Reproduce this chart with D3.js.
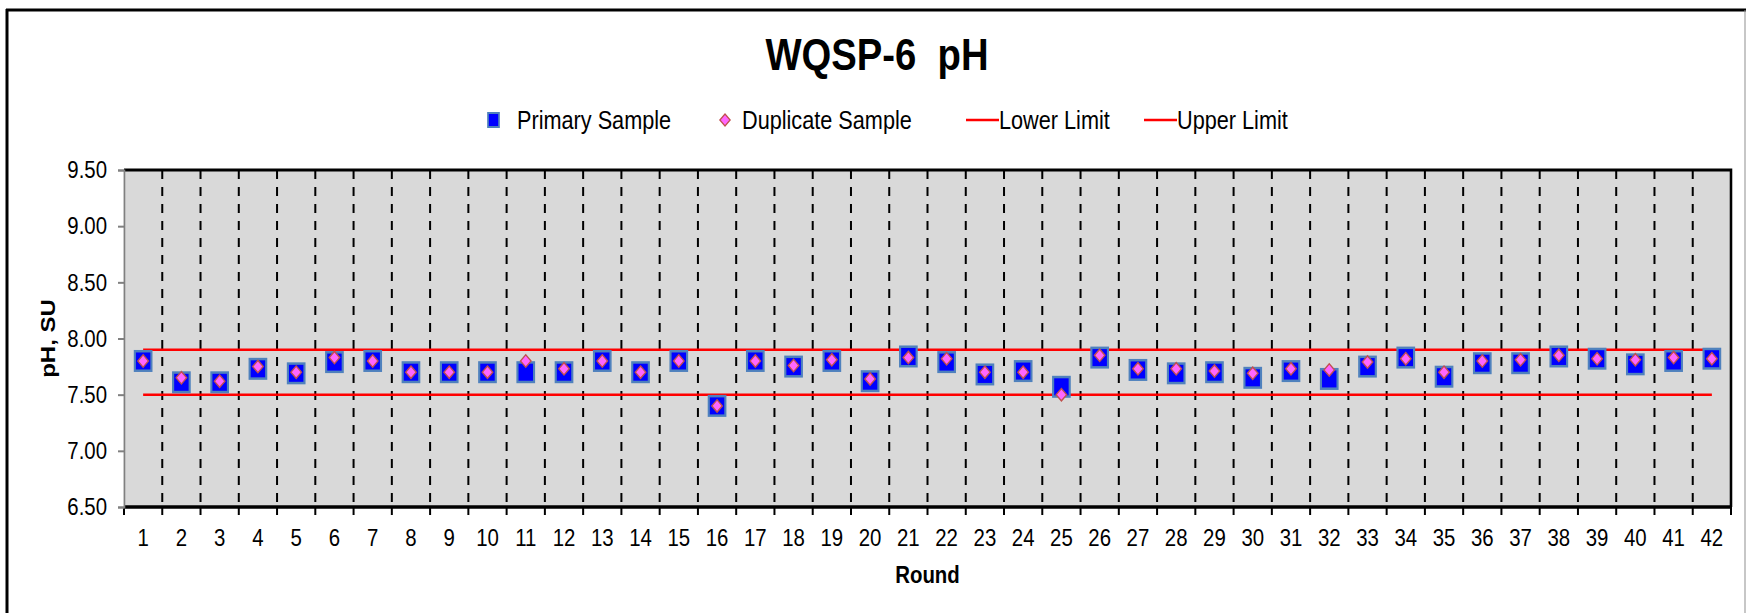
<!DOCTYPE html>
<html lang="en">
<head>
<meta charset="utf-8">
<script src="https://d3js.org/d3.v7.min.js"></script>
<style type="text/css">
body {
	margin: 0;
	background-color: #ffffff;
}
text {
	font-family: "Liberation Sans", Arial, sans-serif;
	fill: #000;
}
.axis text {
	font-size: 24px;
}
.y.axis path, .y.axis line {
	stroke: #808080;
	stroke-width: 2;
}
</style>
</head>
<body>
<script type="text/javascript">

// data
var rounds = d3.range(1, 43).map(String);
var primary = [7.80, 7.61, 7.61, 7.73, 7.69, 7.79, 7.80, 7.70, 7.70, 7.70,
               7.70, 7.70, 7.80, 7.70, 7.80, 7.40, 7.80, 7.75, 7.80, 7.62,
               7.84, 7.79, 7.68, 7.71, 7.57, 7.83, 7.72, 7.69, 7.70, 7.65,
               7.71, 7.64, 7.75, 7.83, 7.66, 7.78, 7.78, 7.84, 7.82, 7.77,
               7.80, 7.82];
var duplicate = [7.80, 7.65, 7.62, 7.75, 7.70, 7.83, 7.80, 7.70, 7.70, 7.70,
                 7.80, 7.73, 7.80, 7.70, 7.80, 7.40, 7.80, 7.76, 7.81, 7.64,
                 7.83, 7.82, 7.70, 7.70, 7.50, 7.85, 7.73, 7.73, 7.71, 7.69,
                 7.73, 7.72, 7.79, 7.82, 7.70, 7.80, 7.81, 7.85, 7.82, 7.81,
                 7.83, 7.82];
var lowerLimit = 7.50;
var upperLimit = 7.90;
var yTicks = [6.5, 7.0, 7.5, 8.0, 8.5, 9.0, 9.5];

// the picture is squeezed sideways, so draw in a wider box and let the viewBox squash it
var k = 0.85;
var width = 1754, height = 613;
var vw = width / k;
function X(px) { return px / k; }

var plotLeft = X(124), plotRight = X(1731), plotTop = 170, plotBottom = 507;

var svg = d3.select("body")
  .append("svg")
  .attr("width", width)
  .attr("height", height)
  .attr("viewBox", "0 0 " + vw + " " + height)
  .attr("preserveAspectRatio", "none");

// outer chart frame
svg.append("line").attr("x1", X(7)).attr("x2", X(7)).attr("y1", 9).attr("y2", height)
  .style("stroke", "#000").style("stroke-width", X(3));
svg.append("line").attr("x1", X(6)).attr("x2", X(1746)).attr("y1", 10).attr("y2", 10)
  .style("stroke", "#000").style("stroke-width", 3);
svg.append("line").attr("x1", X(1745)).attr("x2", X(1745)).attr("y1", 10).attr("y2", height)
  .style("stroke", "#909090").style("stroke-width", X(1));

var x = d3.scaleBand().domain(rounds).range([plotLeft, plotRight]).padding(0);
var y = d3.scaleLinear().domain([6.5, 9.5]).range([plotBottom, plotTop]);
function cx(i) { return x(rounds[i]) + x.bandwidth() / 2; }

// plot area
svg.append("rect")
  .attr("x", plotLeft).attr("y", plotTop)
  .attr("width", plotRight - plotLeft).attr("height", plotBottom - plotTop)
  .style("fill", "#d9d9d9");

var bounds = rounds.map(function(d) { return x(d); }).concat([plotRight]);

// dashed dividers between rounds
svg.append("g").selectAll("line")
  .data(bounds.slice(1, -1))
  .enter().append("line")
  .attr("x1", function(d) { return d; }).attr("x2", function(d) { return d; })
  .attr("y1", plotTop).attr("y2", plotBottom)
  .style("stroke", "#000").style("stroke-width", X(2))
  .style("stroke-dasharray", "9,8");

// border of the plot area
svg.append("path")
  .attr("d", "M" + plotLeft + "," + plotTop + "H" + plotRight + "V" + plotBottom)
  .style("fill", "none").style("stroke", "#000").style("stroke-width", 3);
svg.append("line").attr("x1", plotLeft).attr("x2", plotRight + X(1)).attr("y1", plotBottom).attr("y2", plotBottom)
  .style("stroke", "#000").style("stroke-width", 3.5);

// boundary ticks under the x axis
svg.append("g").selectAll("line")
  .data(bounds)
  .enter().append("line")
  .attr("x1", function(d) { return d; }).attr("x2", function(d) { return d; })
  .attr("y1", plotBottom).attr("y2", plotBottom + 8)
  .style("stroke", "#000").style("stroke-width", X(2));

// axes
svg.append("g")
  .attr("class", "y axis")
  .attr("transform", "translate(" + plotLeft + ",0)")
  .call(d3.axisLeft(y).tickValues(yTicks).tickFormat(d3.format(".2f"))
    .tickSize(X(6)).tickPadding(X(11)));

var xAxis = svg.append("g")
  .attr("class", "x axis")
  .attr("transform", "translate(0," + plotBottom + ")")
  .call(d3.axisBottom(x).tickSize(0).tickPadding(22));
xAxis.select(".domain").remove();

// limit lines
var limitLine = d3.line()
  .x(function(d) { return d[0]; })
  .y(function(d) { return y(d[1]); });
[lowerLimit, upperLimit].forEach(function(v) {
  svg.append("path")
    .attr("d", limitLine([[cx(0), v], [cx(rounds.length - 1), v]]))
    .style("fill", "none").style("stroke", "#ff0000").style("stroke-width", 2.5);
});

// primary sample squares
var sq = 19.5;
svg.append("g").selectAll("rect")
  .data(primary)
  .enter().append("rect")
  .attr("x", function(d, i) { return cx(i) - sq / 2; })
  .attr("y", function(d) { return y(d) - sq / 2; })
  .attr("width", sq).attr("height", sq)
  .style("fill", "#0000ff").style("stroke", "#4f81bd").style("stroke-width", 2.5);

// duplicate sample diamonds
var dm = 6.2;
function diamond(px, py, r) {
  return "M" + px + "," + (py - r) + "L" + (px + r) + "," + py + "L" + px + "," + (py + r) + "L" + (px - r) + "," + py + "Z";
}
svg.append("g").selectAll("path")
  .data(duplicate)
  .enter().append("path")
  .attr("d", function(d, i) { return diamond(cx(i), y(d), dm); })
  .style("fill", "#ff66ff").style("stroke", "#c0504d").style("stroke-width", 1.5);

// titles
svg.append("text")
  .attr("x", X(877)).attr("y", 70)
  .attr("text-anchor", "middle")
  .style("font-size", "45px").style("font-weight", "bold")
  .style("white-space", "pre")
  .text("WQSP-6  pH");

svg.append("text")
  .attr("x", (plotLeft + plotRight) / 2).attr("y", 583)
  .attr("text-anchor", "middle")
  .style("font-size", "24px").style("font-weight", "bold")
  .text("Round");

svg.append("text")
  .attr("transform", "translate(" + X(55) + "," + ((plotTop + plotBottom) / 2) + ") rotate(-90)")
  .attr("text-anchor", "middle")
  .style("font-size", "24px").style("font-weight", "bold")
  .text("pH, SU");

// legend
var ly = 120, lb = 129;
var legend = svg.append("g").style("font-size", "25.5px");
legend.append("rect")
  .attr("x", X(488)).attr("y", ly - 7).attr("width", X(11)).attr("height", 14)
  .style("fill", "#0000ff").style("stroke", "#4f81bd").style("stroke-width", 2);
legend.append("text").attr("x", X(517)).attr("y", lb).text("Primary Sample");
legend.append("path")
  .attr("d", diamond(X(725), ly, 6))
  .style("fill", "#ff66ff").style("stroke", "#c0504d").style("stroke-width", 1.5);
legend.append("text").attr("x", X(742)).attr("y", lb).text("Duplicate Sample");
legend.append("line").attr("x1", X(966)).attr("x2", X(999)).attr("y1", ly).attr("y2", ly)
  .style("stroke", "#ff0000").style("stroke-width", 2.5);
legend.append("text").attr("x", X(999)).attr("y", lb).text("Lower Limit");
legend.append("line").attr("x1", X(1144)).attr("x2", X(1177)).attr("y1", ly).attr("y2", ly)
  .style("stroke", "#ff0000").style("stroke-width", 2.5);
legend.append("text").attr("x", X(1177)).attr("y", lb).text("Upper Limit");

</script>
</body>
</html>
